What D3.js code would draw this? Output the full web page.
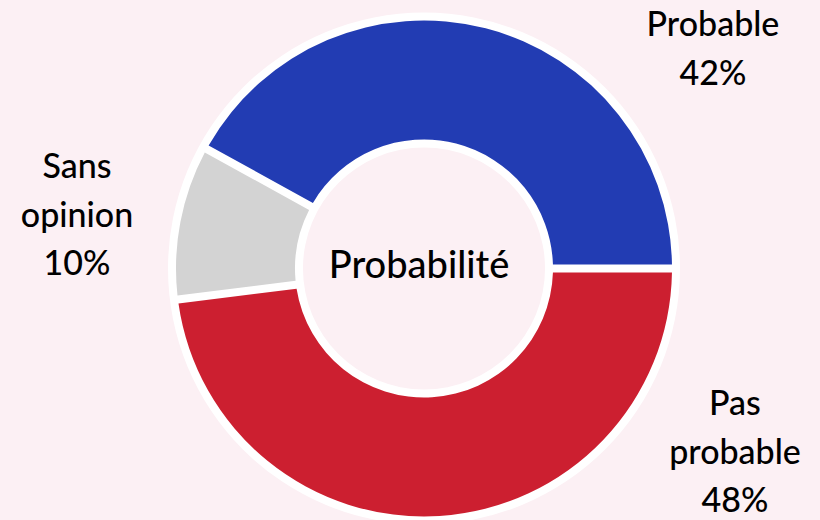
<!DOCTYPE html>
<html><head><meta charset="utf-8">
<script src="https://cdn.jsdelivr.net/npm/d3@7"></script>
<style>html,body{margin:0;padding:0;background:#fcf0f4;}svg{display:block;}</style>
</head><body><svg id="c" width="820" height="520"></svg>
<script>
const categories = ["Probable", "Sans opinion", "Pas probable"];
const values = [42, 10, 48];
const labelLines = [["Probable", "42%"], ["Sans", "opinion", "10%"], ["Pas", "probable", "48%"]];
const colors = ["#223cb3", "#d3d3d3", "#cc1f30"];
const centerTitle = "Probabilité";

const W = 820, H = 520, cx = 424, cy = 268.5;
const rOut = 248, rIn = 129, ring = 8;
const labelPos = [[713, 36], [77, 178], [735, 415]];
const lineH = 48.5;
const font = "Lato, 'Noto Sans', sans-serif";

const svg = d3.select("#c");
svg.append("rect").attr("width", W).attr("height", H).attr("fill", "#fcf0f4");
const g = svg.append("g").attr("transform", `translate(${cx},${cy})`);

// white ring behind
g.append("path")
  .attr("d", d3.arc().innerRadius(rIn - ring).outerRadius(rOut + ring).startAngle(0).endAngle(2 * Math.PI)())
  .attr("fill", "#ffffff");

const pie = d3.pie().value(d => d.v).sort(null)
  .startAngle(Math.PI / 2).endAngle(Math.PI / 2 - 2 * Math.PI);
const data = categories.map((c, i) => ({ c, v: values[i], i }));
const arc = d3.arc().innerRadius(rIn).outerRadius(rOut).padRadius(100).padAngle(0.08);

g.selectAll("path.s").data(pie(data)).enter().append("path")
  .attr("class", "s")
  .attr("d", arc)
  .attr("fill", d => colors[d.data.i]);

g.append("text").attr("x", -5).attr("y", 9)
  .attr("text-anchor", "middle").attr("font-family", font).attr("font-size", 38)
  .attr("font-weight", 500).attr("fill", "#000").text(centerTitle);

labelLines.forEach((lines, i) => {
  const t = svg.append("text").attr("text-anchor", "middle")
    .attr("font-family", font).attr("font-size", 34).attr("font-weight", 500).attr("fill", "#000");
  lines.forEach((l, j) => {
    t.append("tspan").attr("x", labelPos[i][0]).attr("y", labelPos[i][1] + j * lineH).text(l);
  });
});
</script></body></html>
